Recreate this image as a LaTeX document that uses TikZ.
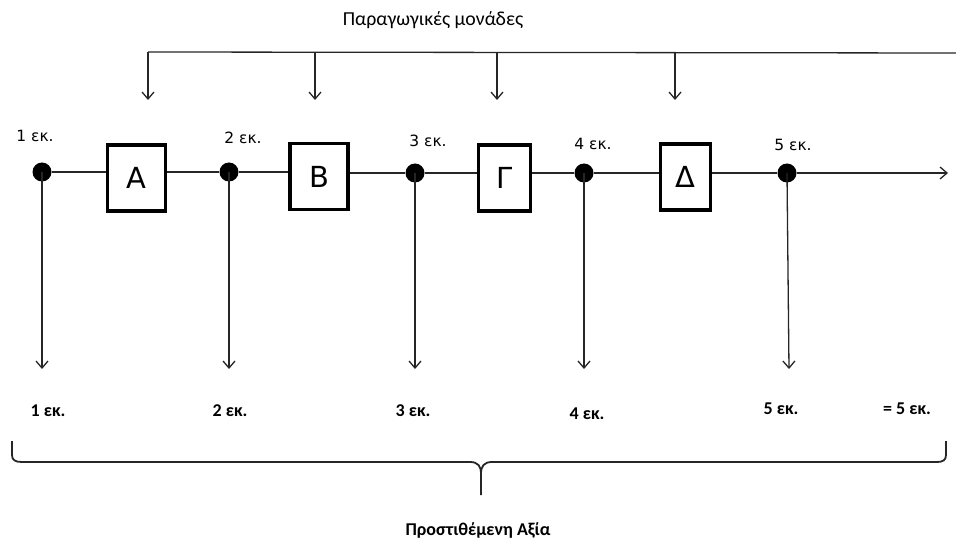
\documentclass[tikz,border=0pt]{standalone}
\usepackage{fontspec}
\setmainfont{Carlito}
\newfontfamily\dvs{DejaVu Sans}
\usetikzlibrary{arrows.meta}
\tikzset{
  thinline/.style={line width=1.3pt,draw=black!85},
  arr/.style={thinline,-{Straight Barb[length=7pt,width=12pt,line width=1.3pt]}},
  boxnode/.style={draw,line width=3.2pt,minimum width=58pt,minimum height=66pt,inner sep=0pt,font=\dvs\fontsize{29}{32}\selectfont},
  dotnode/.style={circle,fill=black,minimum size=19pt,inner sep=0pt},
  toplbl/.style={font=\dvs\fontsize{15.5}{18}\selectfont,inner sep=0pt},
  botlbl/.style={font=\bfseries\fontsize{18}{21}\selectfont,inner sep=0pt},
}
\begin{document}
\begin{tikzpicture}[x=1pt,y=-1pt]
\useasboundingbox (0,0) rectangle (956,545);
% title
\node[font=\fontsize{19.8}{22}\selectfont,inner sep=0pt] (title) at (433,20) {Παραγωγικές μονάδες};
% top distribution line
\coordinate (t0) at (148,52);
\coordinate (tend) at (956,53);
\coordinate (a0) at (148,100);
\coordinate (t1) at (315,52);  \coordinate (a1) at (315,100);
\coordinate (t2) at (497,52);  \coordinate (a2) at (497,100);
\coordinate (t3) at (675,53);  \coordinate (a3) at (675,100);
\draw[thinline] (tend) -- (t0);
\draw[arr] (t0) -- (a0);
\draw[arr] (t1) -- (a1);
\draw[arr] (t2) -- (a2);
\draw[arr] (t3) -- (a3);
% dots and boxes
\node[dotnode] (d1) at (42,172) {};
\node[dotnode] (d2) at (229,172) {};
\node[dotnode] (d3) at (415,173) {};
\node[dotnode] (d4) at (584,173) {};
\node[dotnode] (d5) at (787,173) {};
\node[boxnode] (A) at (136.5,178) {A};
\node[boxnode] (B) at (319,176.5) {B};
\node[boxnode,minimum width=52pt] (G) at (504.5,178) {Γ};
\node[boxnode,minimum width=50pt] (D) at (685.5,177) {Δ};
\coordinate (endarr) at (948,173);
\draw[thinline] (d1) -- (d1 -| A.west);
\draw[thinline] (A.east |- d2) -- (d2) -- (d2 -| B.west);
\draw[thinline] (B.east |- d3) -- (d3) -- (d3 -| G.west);
\draw[thinline] (G.east |- d4) -- (d4) -- (d4 -| D.west);
\draw[thinline] (D.east |- d5) -- (d5);
\draw[arr] (d5) -- (endarr);
% top labels
\node[toplbl] (l1) at (35,136) {1 εκ.};
\node[toplbl] (l2) at (243,138) {2 εκ.};
\node[toplbl] (l3) at (428,141) {3 εκ.};
\node[toplbl] (l4) at (593,144) {4 εκ.};
\node[toplbl] (l5) at (793,145) {5 εκ.};
% down arrows
\coordinate (e1) at (42,369);
\coordinate (e2) at (229,369);
\coordinate (e3) at (415,369);
\coordinate (e4) at (584,369);
\coordinate (e5) at (789,369);
\draw[arr] (d1.center) -- (e1);
\draw[arr] (d2.center) -- (e2);
\draw[arr] (d3.center) -- (e3);
\draw[arr] (d4.center) -- (e4);
\draw[arr] (d5.center) -- (e5);
% bottom labels
\node[botlbl] (b1) at (48,411) {1 εκ.};
\node[botlbl] (b2) at (230,411) {2 εκ.};
\node[botlbl] (b3) at (413,411) {3 εκ.};
\node[botlbl] (b4) at (587,414) {4 εκ.};
\node[botlbl] (b5) at (781,409) {5 εκ.};
\node[botlbl] (b6) at (907,409) {= 5 εκ.};
% brace
\draw[line width=1.8pt,black!85,line join=round]
  (12,441) -- (12,455) .. controls (12,460) and (15,462) .. (22,462)
  -- (470,462) .. controls (478,462) and (481,466) .. (481,474) -- (481,495)
  (481,474) .. controls (481,466) and (484,462) .. (492,462)
  -- (937,462) .. controls (943,462) and (946,460) .. (946,455) -- (946,441);
\node[font=\bfseries\fontsize{18}{22}\selectfont,inner sep=0pt] (va) at (478,530) {Προστιθέμενη Αξία};
\end{tikzpicture}
\end{document}
